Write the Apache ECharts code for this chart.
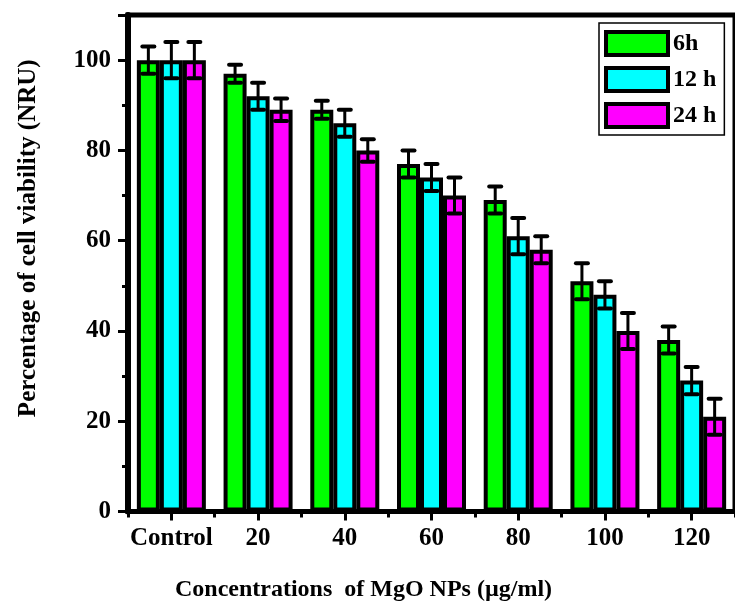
<!DOCTYPE html>
<html>
<head>
<meta charset="utf-8">
<script src="https://cdn.jsdelivr.net/npm/echarts@6/dist/echarts.min.js"></script>
<style>
html,body{margin:0;padding:0;background:#fff;}
#chart{width:735px;height:608px;}
</style>
</head>
<body>
<div id="chart"></div>
<script>
const categories = ['Control', '20', '40', '60', '80', '100', '120'];
const seriesNames = ['6h', '12 h', '24 h'];
const v6h  = [100, 97, 89, 77, 69, 51, 38];
const v12h = [100, 92, 86, 74, 61, 48, 29];
const v24h = [100, 89, 80, 70, 58, 40, 21];
const e6h  = [3, 2, 2, 3, 3, 4, 3];
const e12h = [4, 3, 3, 3, 4, 3, 3];
const e24h = [4, 2.5, 2.5, 4, 3, 4, 4];
const colors = ['#00FF00', '#00FFFF', '#FF00FF'];

const FONT = 'Liberation Serif';
const BAR_W = 23;
const values = [v6h, v12h, v24h];
const errors = [e6h, e12h, e24h];

const chart = echarts.init(document.getElementById('chart'), null, {renderer: 'canvas'});

function errSeries(k) {
  return {
    type: 'custom',
    xAxisIndex: 0,
    yAxisIndex: 0,
    z: 10,
    silent: true,
    data: values[k].map((v, i) => [i, v, errors[k][i]]),
    encode: {x: 0, y: 1},
    renderItem: function (params, api) {
      const idx = api.value(0), v = api.value(1), e = api.value(2);
      const cx = api.coord([idx, v])[0] + (k - 1) * BAR_W;
      const yHi = api.coord([idx, v + e])[1];
      const yLo = api.coord([idx, v - e])[1];
      const st = {stroke: '#000', lineWidth: 3};
      const cap = {stroke: '#000', lineWidth: 4, lineCap: 'round'};
      return {
        type: 'group',
        children: [
          {type: 'line', shape: {x1: cx, y1: yHi, x2: cx, y2: yLo}, style: st},
          {type: 'line', shape: {x1: cx - 6, y1: yHi, x2: cx + 6, y2: yHi}, style: cap},
          {type: 'line', shape: {x1: cx - 6, y1: yLo, x2: cx + 6, y2: yLo}, style: cap}
        ]
      };
    }
  };
}

const option = {
  animation: false,
  backgroundColor: '#fff',
  textStyle: {fontFamily: FONT},
  grid: {
    left: 128, top: 15, width: 616, height: 496.5,
    show: true, borderColor: '#000', borderWidth: 5, backgroundColor: 'transparent'
  },
  legend: {
    orient: 'vertical',
    left: 599, top: 23,
    padding: [7, 8, 6, 5],
    itemGap: 9,
    itemWidth: 62, itemHeight: 23,
    icon: 'rect',
    borderColor: '#000', borderWidth: 1.5,
    data: seriesNames,
    itemStyle: {borderColor: '#000', borderWidth: 4},
    textStyle: {fontFamily: FONT, fontWeight: 'bold', fontSize: 24, color: '#000', padding: [0, 0, 0, 0]}
  },
  xAxis: [
    {
      type: 'category',
      data: categories,
      position: 'bottom',
      name: 'Concentrations  of MgO NPs (µg/ml)',
      nameLocation: 'middle',
      nameGap: 66,
      nameTextStyle: {fontFamily: FONT, fontWeight: 'bold', fontSize: 24, color: '#000', padding: [0, 136, 0, 0]},
      axisLine: {show: true, lineStyle: {color: '#000', width: 5}},
      axisTick: {show: true, alignWithLabel: true, length: 9, lineStyle: {color: '#000', width: 3}},
      axisLabel: {fontFamily: FONT, fontWeight: 'bold', fontSize: 25, color: '#000', margin: 15, interval: 0},
      splitLine: {show: false}
    },
    {
      type: 'category',
      data: categories,
      position: 'bottom',
      axisLine: {show: false},
      axisTick: {show: true, length: 6, lineStyle: {color: '#000', width: 3}},
      axisLabel: {show: false},
      splitLine: {show: false}
    }
  ],
  yAxis: [
    {
      type: 'value',
      min: 0, max: 110, interval: 10,
      position: 'left',
      name: 'Percentage of cell viability (NRU)',
      nameLocation: 'middle',
      nameGap: 87,
      nameTextStyle: {fontFamily: FONT, fontWeight: 'bold', fontSize: 25, color: '#000', padding: [0, 0, 0, 50]},
      axisLine: {show: true, lineStyle: {color: '#000', width: 6}},
      axisTick: {show: true, length: 6, lineStyle: {color: '#000', width: 3}},
      axisLabel: {
        fontFamily: FONT, fontWeight: 'bold', fontSize: 25, color: '#000', margin: 17,
        formatter: v => (v % 20 === 0 && v <= 100) ? String(v) : ''
      },
      splitLine: {show: false}
    },
    {
      type: 'value',
      min: 0, max: 110, interval: 20,
      position: 'left',
      axisLine: {show: false},
      axisTick: {show: true, length: 10, lineStyle: {color: '#000', width: 3}},
      axisLabel: {show: false},
      splitLine: {show: false}
    }
  ],
  series: [
    ...seriesNames.map((name, k) => ({
      name: name,
      type: 'bar',
      xAxisIndex: 0,
      yAxisIndex: 0,
      data: values[k],
      barWidth: BAR_W,
      barGap: '0%',
      itemStyle: {color: colors[k], borderColor: '#000', borderWidth: 4}
    })),
    errSeries(0), errSeries(1), errSeries(2)
  ]
};
chart.setOption(option);
</script>
</body>
</html>
